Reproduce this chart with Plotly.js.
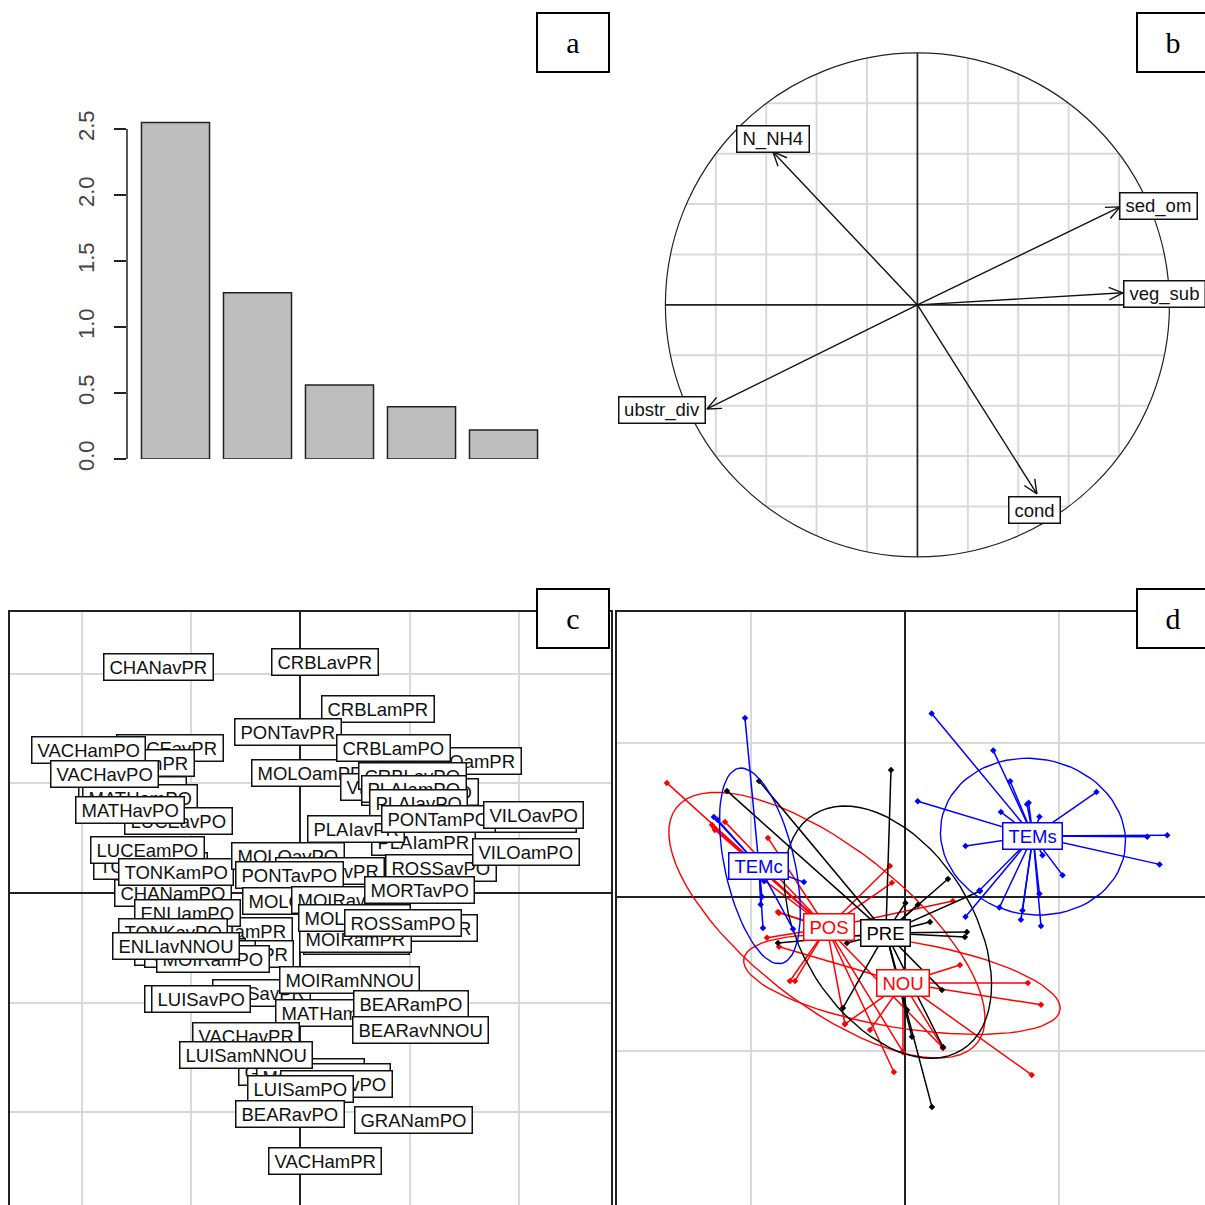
<!DOCTYPE html>
<html><head><meta charset="utf-8">
<script src="https://cdn.plot.ly/plotly-3.0.1.min.js"></script>
<style>html,body{margin:0;padding:0;background:#fff;overflow:hidden}#g{width:1205px;height:1205px}</style>
</head><body><div id="g"></div>
<script>
// ---- panel a: eigenvalues
const eigenRank = [1, 2, 3, 4, 5];
const eigenValues = [2.55, 1.26, 0.56, 0.395, 0.22];
const eigenTicks = [0, 0.5, 1, 1.5, 2, 2.5];
const eigenTickText = ['0.0', '0.5', '1.0', '1.5', '2.0', '2.5'];

// ---- panel b: correlation circle
const corNames = ['N_NH4', 'sed_om', 'veg_sub', 'ubstr_div', 'cond'];
const corX = [-0.573, 0.804, 0.815, -0.835, 0.474];
const corY = [0.607, 0.389, 0.048, -0.413, -0.75];
const corLabelX = [-0.573, 0.958, 0.98, -1.014, 0.466];
const corLabelY = [0.659, 0.393, 0.044, -0.417, -0.813];
const corGrid = [-0.8, -0.6, -0.4, -0.2, 0.2, 0.4, 0.6, 0.8];

// ---- panel c: site labels, in drawing order
const siteNames = ['CHANavPR','CRBLavPR','CRBLamPR','PONTavPR','LUCEavPR','LUCEamPR',
 'TONKavPR','MATHamPO','VACHamPO','VACHavPO','LUCEavPO','MATHavPO','TONKamPR','LUCEamPO','CHANamPO','TONKamPO',
 'MOLOavPO','MORTavPR','PONTavPO','MOLOamPO','MOIRavPO',
 'VILOamPR','MOLOamPR','CRBLamPO','VILOavPR','MORTamPO','CRBLavPO','PLAIamPO','PLAIavPO','MORTamPR',
 'PLAIamPR','PLAIavPR','PONTamPO','VILOavPO','ROSSavPO','VILOamPO','MORTavPO',
 'ROSSamPR','MOIRavPR','MOIRamPR','MOLOavPR','ROSSamPO',
 'ENLIamPR','ENLIavPR','CHANavPO','GRANavPR','ENLIamPO','TONKavPO','MOIRamPO','ENLIavNNOU',
 'LUISavPR','MOIRamNNOU','FRAIavPO','LUISavPO','MATHamPR','BEARamPO','BEARavNNOU',
 'VACHavPR','MATHavPR','GRANavNOU','MOIRavNNOU','GRANavPO','LUISamNNOU','LUISamPO','BEARavPO','GRANamPO','VACHamPR'];
const siteX = [-1.30,0.22,0.71,-0.11,-1.19,-1.48,
 -1.53,-1.47,-1.94,-1.79,-1.11,-1.56,-1.37,-1.40,-1.16,-1.14,
 -0.11,0.27,-0.10,0.01,0.41,
 1.53,0.09,0.85,0.82,1.09,1.02,1.04,1.08,2.00,
 1.12,0.51,1.26,2.13,1.28,2.06,1.09,
 1.09,0.51,0.50,0.49,0.94,
 -0.55,-0.51,-1.01,-0.92,-1.03,-1.16,-0.80,-1.14,
 -0.36,0.45,-0.97,-0.91,0.29,1.01,1.10,
 -0.50,0.08,0.01,0.21,0.33,-0.50,0.00,-0.10,1.03,0.22];
const siteY = [2.06,2.11,1.68,1.47,1.32,1.19,
 0.94,0.87,1.31,1.09,0.66,0.76,0.25,0.39,0.00,0.19,
 0.34,0.20,0.16,-0.07,-0.06,
 1.21,1.10,1.32,0.97,0.92,1.07,0.95,0.82,0.68,
 0.47,0.58,0.68,0.71,0.23,0.37,0.03,
 -0.32,-0.44,-0.42,-0.23,-0.27,
 -0.35,-0.56,-0.54,-0.56,-0.18,-0.36,-0.60,-0.48,
 -0.91,-0.79,-0.97,-0.97,-1.10,-1.01,-1.25,
 -1.31,-1.65,-1.63,-1.68,-1.74,-1.48,-1.79,-2.02,-2.07,-2.45];

// ---- panel d: groups
const groupNames = ['NOU', 'POS', 'PRE', 'TEMc', 'TEMs'];
const groupColors = ['#ff0000', '#ff0000', '#000000', '#0000ff', '#0000ff'];
const groupCenterX = [-0.016, -0.510, -0.127, -0.951, 0.828];
const groupCenterY = [-0.56, -0.203, -0.235, 0.199, 0.394];
const ellipseX = [-0.023, -0.51, -0.114, -0.945, 0.828];
const ellipseY = [-0.57, -0.185, -0.23, 0.2, 0.39];
const ellipseMajor = [1.04, 1.24, 0.903, 0.649, 0.604];
const ellipseMinor = [0.282, 0.51, 0.555, 0.227, 0.506];
const ellipseAngle = [-9.2, -38, -57.7, -77.5, -10];
const nouX = [0.795,0.88,0.82,0.354,-0.393,-0.821,-0.016,0.244,-0.23];
const nouY = [-0.56,-0.702,-1.157,-0.443,-0.827,-0.325,-1.008,-0.982,-0.865];
const posX = [-1.549,-1.237,-1.172,-0.893,-1.24,-1.256,-0.101,-0.088,-0.912,-0.828,-0.899,-0.821,0.308,-0.75,-0.717,-0.075,-0.016,0.244,-0.393];
const posY = [0.739,0.434,0.486,0.382,0.447,0.466,0.2,0.09,0.103,-0.099,-0.267,-0.105,-0.028,-0.547,-0.547,-1.138,-1.008,-0.982,-0.827];
const preX = [-0.094,-0.951,-1.159,-0.828,-0.406,0.172,0.042,0.01,0.237,0.244,0.399,0.386,0.484,0.276,0.159,-0.38,0,0.08];
const preY = [0.823,0.752,0.687,-0.3,-0.722,-1.365,-0.91,-0.735,-0.605,-0.976,-0.229,-0.261,0.037,0.115,-0.164,-0.3,-0.04,-0.053];
const temcX = [-1.042,-1.244,-0.932,-0.925,-0.659,-0.73,-0.919,-0.93,-1.22,-0.94];
const temcY = [1.16,0.518,0,-0.203,0.095,-0.21,0.102,0.155,0.5,-0.05];
const temsX = [0.17,0.57,0.68,0.80,0.79,0.62,0.87,1.24,0.08,0.39,1.57,1.70,1.65,1.02,0.89,0.39,0.48,0.61,0.75,0.76,0.87,0.88];
const temsY = [1.19,0.95,0.75,0.61,0.60,0.55,0.52,0.68,0.62,0.33,0.39,0.40,0.21,0.14,0.27,-0.13,0.04,-0.07,-0.15,-0.09,0.02,-0.19];
const groupPointsX = [nouX, posX, preX, temcX, temsX];
const groupPointsY = [nouY, posY, preY, temcY, temsY];
const groupLabelX = [-0.016, -0.497, -0.127, -0.951, 0.828];
const groupLabelY = [-0.56, -0.198, -0.235, 0.2, 0.394];

const panelNames = ['a', 'b', 'c', 'd'];

// ---- drawing
const W = 1205, H = 1205;
const fx = p => p / W, fy = p => 1 - p / H;
const FONT = 'Liberation Sans, Arial, sans-serif';
const ctx = document.createElement('canvas').getContext('2d');
ctx.font = "18.5px 'Liberation Sans'";
const tw = s => ctx.measureText(s).width;
function box(text, x, y, xref, yref, color) {
  return {text, x, y, xref, yref, showarrow:false, xanchor:'center', yanchor:'middle',
    width: tw(text) + 7, height: 22, borderpad: 1.5, borderwidth: 1.5,
    bordercolor: color || '#111', bgcolor:'#fff', align:'center',
    font:{family:FONT, size:18.5, color: color || '#111'}};
}
const traces = [];
const annotations = [], shapes = [];

// a
traces.push({type:'bar', x:eigenRank, y:eigenValues, width:0.83, xaxis:'x', yaxis:'y',
  marker:{color:'#bebebe', line:{color:'#222', width:1.5}}});
shapes.push({type:'line', xref:'paper', yref:'y', x0:fx(127), x1:fx(127), y0:0, y1:2.5, line:{color:'#222', width:1.5}});

// b
let gx = [], gy = [];
corGrid.forEach(g => {
  const h = Math.sqrt(1 - g * g);
  gx.push(g, g, null, -h, h, null);
  gy.push(-h, h, null, g, g, null);
});
traces.push({type:'scatter', mode:'lines', x:gx, y:gy, xaxis:'x2', yaxis:'y2', line:{color:'#d9d9d9', width:2}});
traces.push({type:'scatter', mode:'lines', x:[-1,1,null,0,0], y:[0,0,null,-1,1], xaxis:'x2', yaxis:'y2', line:{color:'#222', width:1.7}});
shapes.push({type:'circle', xref:'x2', yref:'y2', x0:-1, x1:1, y0:-1, y1:1, line:{color:'#222', width:1.2}});
let ax = [], ay = [];
corX.forEach((x, i) => {
  const y = corY[i], L = Math.hypot(x, y), ux = x / L, uy = y / L, hl = 0.06, c = Math.cos(0.42), s = Math.sin(0.42);
  ax.push(0, x, null, x - hl * (ux * c - uy * s), x, x - hl * (ux * c + uy * s), null);
  ay.push(0, y, null, y - hl * (uy * c + ux * s), y, y - hl * (uy * c - ux * s), null);
});
traces.push({type:'scatter', mode:'lines', x:ax, y:ay, xaxis:'x2', yaxis:'y2', line:{color:'#111', width:1.4}});
corNames.forEach((n, i) => annotations.push(box(n, corLabelX[i], corLabelY[i], 'x2', 'y2')));

// c
siteNames.forEach((n, i) => annotations.push(box(n, siteX[i], siteY[i], 'x3', 'y3')));

// d
groupNames.forEach((n, i) => {
  const sx = [], sy = [];
  groupPointsX[i].forEach((x, j) => {
    sx.push(groupCenterX[i], x, null);
    sy.push(groupCenterY[i], groupPointsY[i][j], null);
  });
  traces.push({type:'scatter', mode:'lines', x:sx, y:sy, xaxis:'x4', yaxis:'y4', line:{color:groupColors[i], width:1.5}});
  traces.push({type:'scatter', mode:'markers', x:groupPointsX[i], y:groupPointsY[i], xaxis:'x4', yaxis:'y4',
    marker:{symbol:'diamond', size:5, color:groupColors[i]}});
  const ex = [], ey = [], th = ellipseAngle[i] * Math.PI / 180;
  for (let k = 0; k <= 72; k++) {
    const t = k / 72 * 2 * Math.PI, u = ellipseMajor[i] * Math.cos(t), v = ellipseMinor[i] * Math.sin(t);
    ex.push(ellipseX[i] + u * Math.cos(th) - v * Math.sin(th));
    ey.push(ellipseY[i] + u * Math.sin(th) + v * Math.cos(th));
  }
  traces.push({type:'scatter', mode:'lines', x:ex, y:ey, xaxis:'x4', yaxis:'y4', line:{color:groupColors[i], width:1.4}});
});
groupNames.forEach((n, i) => annotations.push(box(n, groupLabelX[i], groupLabelY[i], 'x4', 'y4', groupColors[i])));

// panel letters
[[573,42.5],[1173,42.5],[573,618.5],[1173,618.5]].forEach((p, i) => annotations.push({
  text:panelNames[i], x:fx(p[0]), y:fy(p[1]), xref:'paper', yref:'paper', showarrow:false,
  xanchor:'center', yanchor:'middle', width:68, height:55, borderpad:1, borderwidth:2,
  bordercolor:'#000', bgcolor:'#fff', font:{family:'Liberation Serif, serif', size:30, color:'#000'}
}));

const hidden = {visible:true, showgrid:false, zeroline:false, showline:false, showticklabels:false, ticks:''};
const grid = () => ({dtick:1, tick0:0, showgrid:true, gridcolor:'#d9d9d9', gridwidth:2,
  zeroline:true, zerolinecolor:'#222', zerolinewidth:2, showticklabels:false, ticks:''});
const layout = {
  width:W, height:H, margin:{l:0,r:0,t:0,b:0}, showlegend:false, paper_bgcolor:'#fff', plot_bgcolor:'rgba(0,0,0,0)',
  xaxis:Object.assign({}, hidden, {domain:[fx(127), fx(550)], range:[0.4085, 5.567], anchor:'y'}),
  yaxis:{domain:[fy(459), fy(110)], range:[0, 2.644], anchor:'x', tickvals:eigenTicks, ticktext:eigenTickText,
    tickangle:-90, ticks:'outside', ticklen:12, tickwidth:1.5, tickcolor:'#222', ticklabelstandoff:11,
    tickfont:{family:FONT, size:22, color:'#444'}, showgrid:false, zeroline:false, showline:false},
  xaxis2:Object.assign({}, hidden, {domain:[fx(617), fx(1205)], range:[-1.192, 1.141], anchor:'y2'}),
  yaxis2:Object.assign({}, hidden, {domain:[fy(570), fy(0)], range:[-1.052, 1.21], anchor:'x2'}),
  xaxis3:Object.assign(grid(), {domain:[fx(10), fx(611)], range:[-2.653, 2.836], anchor:'y3', side:'top', showline:true, linecolor:'#222', linewidth:2}),
  yaxis3:Object.assign(grid(), {domain:[0, fy(612)], range:[-2.849, 2.566], anchor:'x3', showline:true, mirror:true, linecolor:'#222', linewidth:2}),
  xaxis4:Object.assign(grid(), {domain:[fx(617), 1], range:[-1.873, 1.945], anchor:'y4', side:'top', showline:true, linecolor:'#222', linewidth:2}),
  yaxis4:Object.assign(grid(), {domain:[0, fy(612)], range:[-2.002, 1.849], anchor:'x4', showline:true, linecolor:'#222', linewidth:2}),
  shapes, annotations
};
Plotly.newPlot('g', traces, layout, {displayModeBar:false, staticPlot:true});
</script></body></html>
